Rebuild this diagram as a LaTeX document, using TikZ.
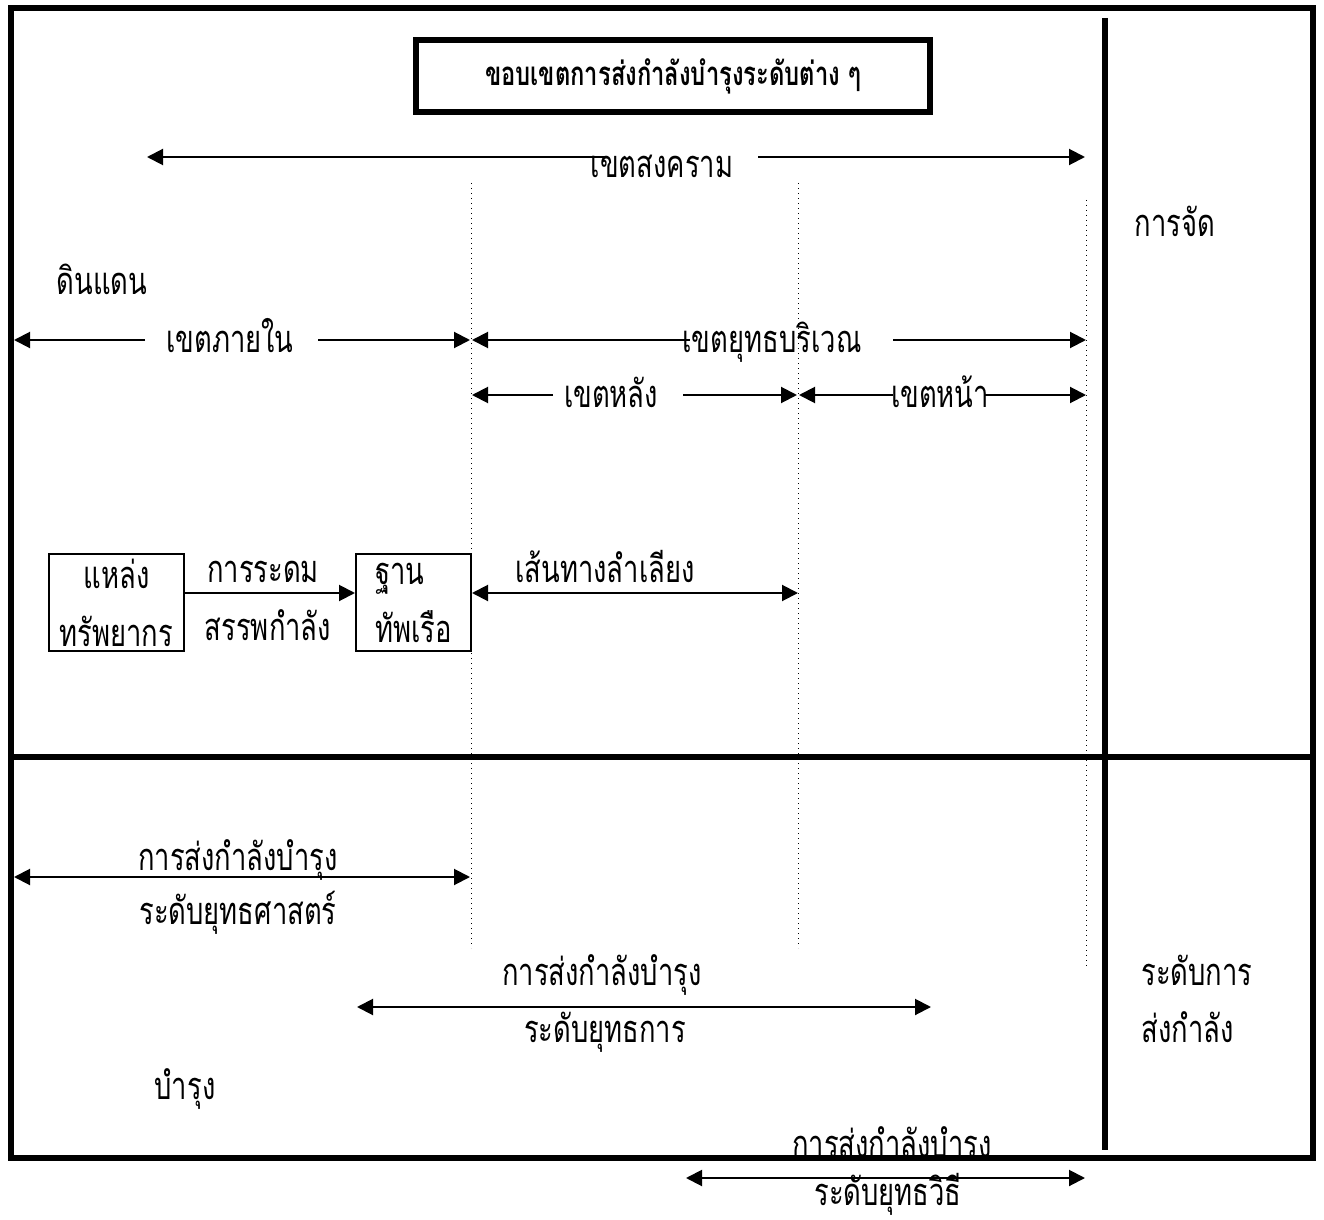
\documentclass[tikz,border=0pt]{standalone}
\usepackage{fontspec}
\usetikzlibrary{arrows.meta}
\newfontfamily\thaifont[Script=Thai,FakeStretch=0.72]{Loma}
\begin{document}
\begin{tikzpicture}[x=0.5pt,y=-0.5pt,
  lbl/.style={font=\thaifont\fontsize{19}{29}\selectfont, inner sep=0pt, anchor=mid, yshift=-4pt},
  arr/.style={line width=1pt, -{Triangle[length=8pt,width=8pt]}},
  darr/.style={line width=1pt, {Triangle[length=8pt,width=8pt]}-{Triangle[length=8pt,width=8pt]}},
  frameline/.style={line width=3pt},
  dots/.style={line width=0.5pt, dotted},
  boxnode/.style={draw, line width=1pt, minimum width=67.5pt, minimum height=48.5pt, inner sep=0pt,
    font=\thaifont\fontsize{19}{29}\selectfont}
]
\useasboundingbox (0,0) rectangle (1324,1220);
\fill[white] (0,0) rectangle (1324,1220);

% title
\node[draw, line width=3pt, minimum width=257pt, minimum height=36pt, inner sep=0pt,
  font=\thaifont\bfseries\fontsize{16.5}{18}\selectfont] (title) at (673,76) {ขอบเขตการส่งกำลังบำรุงระดับต่าง ๆ};

% dotted boundaries
\coordinate (d1t) at (471,183); \coordinate (d1b) at (471,948);
\coordinate (d2t) at (798,183); \coordinate (d2b) at (798,948);
\coordinate (d3t) at (1086,200); \coordinate (d3b) at (1086,968);
\draw[dots] (d1t) -- (d1b);
\draw[dots] (d2t) -- (d2b);
\draw[dots] (d3t) -- (d3b);

% war zone
\node[lbl] (war) at (662,165) {เขตสงคราม};
\coordinate (wl) at (605,157); \coordinate (wL) at (147,157);
\coordinate (wr) at (758,157); \coordinate (wR) at (1085,157);
\draw[arr] (wl) -- (wL);
\draw[arr] (wr) -- (wR);

\node[lbl] (land) at (102,282) {ดินแดน};
\node[lbl] (org) at (1175,224) {การจัด};

% row 1
\node[lbl] (inner) at (230,340) {เขตภายใน};
\coordinate (i1) at (145,340); \coordinate (i0) at (14,340);
\coordinate (i2) at (318,340); \coordinate (i3) at (470,340);
\draw[arr] (i1) -- (i0);
\draw[arr] (i2) -- (i3);
\node[lbl] (theatre) at (772,340) {เขตยุทธบริเวณ};
\coordinate (t1) at (690,340); \coordinate (t0) at (472,340);
\coordinate (t2) at (893,340); \coordinate (t3) at (1086,340);
\draw[arr] (t1) -- (t0);
\draw[arr] (t2) -- (t3);

% row 2
\node[lbl] (rear) at (611,395) {เขตหลัง};
\coordinate (r1) at (553,395); \coordinate (r0) at (472,395);
\coordinate (r2) at (683,395); \coordinate (r3) at (797,395);
\draw[arr] (r1) -- (r0);
\draw[arr] (r2) -- (r3);
\node[lbl] (front) at (940,395) {เขตหน้า};
\coordinate (f1) at (893,395); \coordinate (f0) at (799,395);
\coordinate (f2) at (985,395); \coordinate (f3) at (1086,395);
\draw[arr] (f1) -- (f0);
\draw[arr] (f2) -- (f3);

% boxes
\node[boxnode, align=center] (src) at (116.5,602.5) {แหล่ง\\ทรัพยากร};
\node[boxnode, minimum width=57.5pt, align=left] (base) at (413.5,602.5) {ฐาน\\ทัพเรือ};
\draw[arr] ([yshift=4.75pt]src.east) -- ([yshift=4.75pt]base.west);
\node[lbl] (mob1) at (263,570) {การระดม};
\node[lbl] (mob2) at (268,628) {สรรพกำลัง};
\coordinate (los) at (798,593);
\draw[darr] ([yshift=4.75pt]base.east) -- (los);
\node[lbl] (route) at (605,570) {เส้นทางลำเลียง};

% strategic
\node[lbl] (s1) at (238,858) {การส่งกำลังบำรุง};
\node[lbl] (s2) at (238,912) {ระดับยุทธศาสตร์};
\coordinate (sa) at (14,877); \coordinate (sb) at (470,877);
\draw[darr] (sa) -- (sb);

% operational
\node[lbl] (o1) at (602,973) {การส่งกำลังบำรุง};
\node[lbl] (o2) at (605,1030) {ระดับยุทธการ};
\coordinate (oa) at (357,1007); \coordinate (ob) at (931,1007);
\draw[darr] (oa) -- (ob);

\node[lbl] (bam) at (185,1087) {บำรุง};
\node[lbl] (lv1) at (1197,973) {ระดับการ};
\node[lbl] (lv2) at (1188,1030) {ส่งกำลัง};

% tactical
\node[lbl] (tc1) at (892,1145) {การส่งกำลังบำรง};
\node[lbl] (tc2) at (888,1193) {ระดับยุทธวิธี};
\coordinate (ta) at (686,1178); \coordinate (tb) at (1085,1178);
\draw[darr] (ta) -- (tb);

% frame
\coordinate (fr1) at (11,8); \coordinate (fr2) at (1313,1158);
\draw[frameline] (fr1) rectangle (fr2);
\coordinate (h1) at (11,757); \coordinate (h2) at (1313,757);
\draw[frameline] (h1) -- (h2);
\coordinate (v1) at (1105,18); \coordinate (v2) at (1105,1150);
\draw[frameline] (v1) -- (v2);
\end{tikzpicture}
\end{document}
